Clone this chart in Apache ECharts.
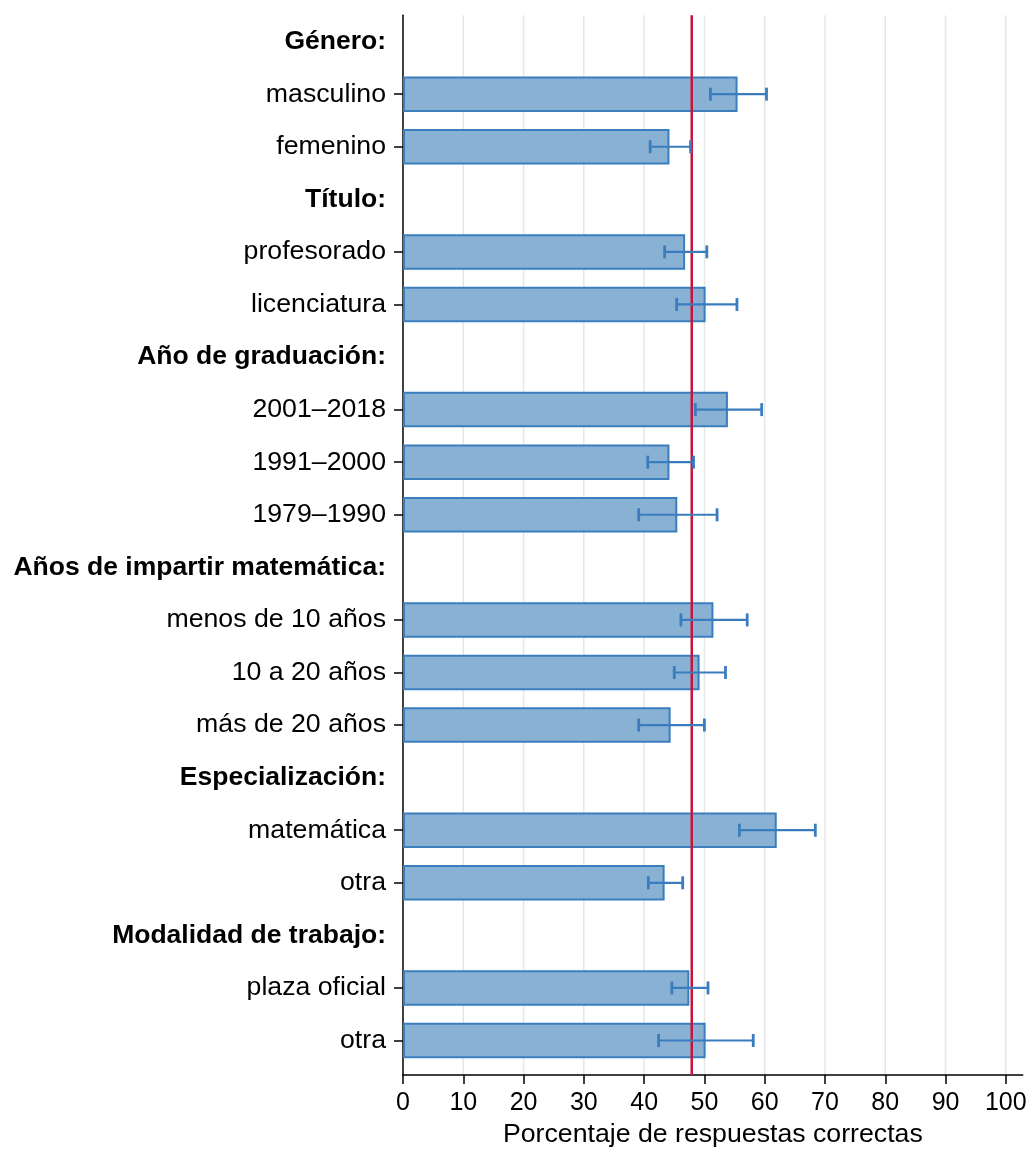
<!DOCTYPE html>
<html>
<head>
<meta charset="utf-8">
<script src="https://cdn.jsdelivr.net/npm/echarts@6/dist/echarts.min.js"></script>
<style>
html,body{margin:0;padding:0;background:#fff;}
#chart{width:1033px;height:1153px;}
</style>
</head>
<body>
<div id="chart"></div>
<script>
const categories = ['Género:', 'masculino', 'femenino', 'Título:', 'profesorado', 'licenciatura',
  'Año de graduación:', '2001–2018', '1991–2000', '1979–1990',
  'Años de impartir matemática:', 'menos de 10 años', '10 a 20 años', 'más de 20 años',
  'Especialización:', 'matemática', 'otra', 'Modalidad de trabajo:', 'plaza oficial', 'otra'];
const isHeader = [true, false, false, true, false, false, true, false, false, false,
  true, false, false, false, true, false, false, true, false, false];
const means  = [null, 55.5, 44.2, null, 46.8, 50.2, null, 53.9, 44.2, 45.5, null, 51.5, 49.2, 44.4, null, 62.0, 43.4, null, 47.5, 50.2];
const ciLow  = [null, 51.0, 41.0, null, 43.4, 45.4, null, 48.5, 40.6, 39.1, null, 46.1, 45.0, 39.1, null, 55.8, 40.7, null, 44.6, 42.4];
const ciHigh = [null, 60.3, 47.7, null, 50.4, 55.4, null, 59.5, 48.2, 52.1, null, 57.1, 53.5, 50.0, null, 68.4, 46.4, null, 50.6, 58.1];
const overallMean = 47.9;
const xTicks = [0, 10, 20, 30, 40, 50, 60, 70, 80, 90, 100];
const gridValues = [10, 20, 30, 40, 50, 60, 70, 80, 90, 100];
const xAxisTitle = 'Porcentaje de respuestas correctas';

const FONT = "'Liberation Sans', Arial, Helvetica, sans-serif";
const XMAX = 102.8;

const barData = means.map(v => v == null ? '-' : v);
const errData = [];
means.forEach((v, i) => { if (v != null) errData.push([i, ciLow[i], ciHigh[i]]); });

const chart = echarts.init(document.getElementById('chart'), null, {renderer: 'canvas'});
chart.setOption({
  backgroundColor: '#fff',
  animation: false,
  grid: [
    {left: 403, right: 10.3, top: 15.3, bottom: 86.2, containLabel: false},
    {left: 403, right: 10.3, top: 15.3, bottom: 71, containLabel: false}
  ],
  xAxis: [
    {gridIndex: 0, type: 'value', min: 0, max: XMAX, show: false},
    {gridIndex: 1, type: 'value', min: 0, max: XMAX,
      axisLine: {show: true, lineStyle: {color: '#000', width: 1.5}},
      axisTick: {show: true, length: 9, customValues: xTicks, lineStyle: {color: '#000', width: 1.5}},
      axisLabel: {show: true, customValues: xTicks, margin: 16, fontSize: 25, color: '#000', fontFamily: FONT},
      splitLine: {show: false},
      name: xAxisTitle, nameLocation: 'middle', nameGap: 45,
      nameTextStyle: {fontSize: 26.7, color: '#000', fontFamily: FONT}
    }
  ],
  yAxis: [
    {gridIndex: 0, type: 'category', inverse: true, data: categories,
      axisLine: {show: false},
      axisTick: {show: true, alignWithLabel: true, length: 9,
        interval: (idx) => !isHeader[idx],
        lineStyle: {color: '#000', width: 1.5}},
      axisLabel: {show: true, interval: 0, margin: 17,
        formatter: (val, idx) => isHeader[idx] ? '{h|' + val + '}' : '{n|' + val + '}',
        rich: {
          h: {fontSize: 26.5, fontWeight: 'bold', color: '#000', fontFamily: FONT},
          n: {fontSize: 26.7, color: '#000', fontFamily: FONT}
        }},
      splitLine: {show: false}
    },
    {gridIndex: 1, type: 'value', min: 0, max: 1,
      axisLine: {show: true, lineStyle: {color: '#000', width: 1.5}},
      axisTick: {show: false}, axisLabel: {show: false}, splitLine: {show: false}
    }
  ],
  series: [
    {
      name: 'grid', type: 'custom', xAxisIndex: 1, yAxisIndex: 1, z: 0, silent: true,
      data: gridValues.map(v => [v]),
      encode: {x: 0},
      renderItem: function (params, api) {
        const v = api.value(0);
        const p0 = api.coord([v, 0]);
        const p1 = api.coord([v, 1]);
        return {type: 'line', shape: {x1: p0[0], y1: p0[1], x2: p1[0], y2: p1[1]},
          style: {stroke: '#e6e6e6', lineWidth: 1.5}};
      }
    },
    {
      name: 'means', type: 'bar', xAxisIndex: 0, yAxisIndex: 0, z: 2,
      data: barData, barWidth: 35.5,
      itemStyle: {color: '#88b1d4', borderColor: '#3b7ebe', borderWidth: 2}
    },
    {
      name: 'overall', type: 'custom', xAxisIndex: 1, yAxisIndex: 1, z: 3, silent: true,
      data: [[overallMean]],
      encode: {x: 0},
      renderItem: function (params, api) {
        const v = api.value(0);
        const p0 = api.coord([v, 0]);
        const p1 = api.coord([v, 1]);
        return {type: 'line', shape: {x1: p0[0], y1: p0[1], x2: p1[0], y2: p1[1]},
          style: {stroke: '#c8143c', lineWidth: 2.5}};
      }
    },
    {
      name: 'ci', type: 'custom', xAxisIndex: 0, yAxisIndex: 0, z: 4, silent: true,
      data: errData,
      encode: {y: 0, x: [1, 2]},
      renderItem: function (params, api) {
        const idx = api.value(0);
        const lo = api.coord([api.value(1), idx]);
        const hi = api.coord([api.value(2), idx]);
        const h = 6.5;
        const st = {stroke: '#3a7dbf', lineWidth: 2.2};
        const cap = {stroke: '#3a7dbf', lineWidth: 2.8};
        return {type: 'group', children: [
          {type: 'line', shape: {x1: lo[0], y1: lo[1], x2: hi[0], y2: hi[1]}, style: st},
          {type: 'line', shape: {x1: lo[0], y1: lo[1] - h, x2: lo[0], y2: lo[1] + h}, style: cap},
          {type: 'line', shape: {x1: hi[0], y1: hi[1] - h, x2: hi[0], y2: hi[1] + h}, style: cap}
        ]};
      }
    }
  ]
});
</script>
</body>
</html>
